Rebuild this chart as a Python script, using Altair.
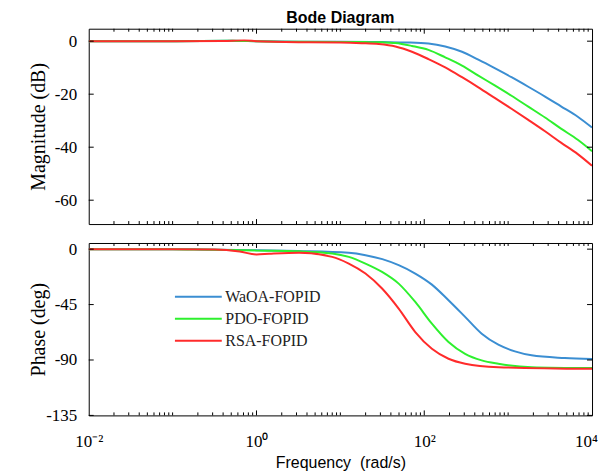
import altair as alt
import pandas as pd

SERIES = ["WaOA-FOPID", "PDO-FOPID", "RSA-FOPID"]
COLORS = ["#3b8ed2", "#2ef02e", "#ff2b2b"]

# ---- Magnitude (dB), positions given as log10(frequency) ----
mag_lw_waoa = [-2, -1, -0.3, 0, 0.5, 1, 1.5, 1.8, 2.05, 2.25, 2.45, 2.645, 2.84, 3.04, 3.24, 3.44, 3.63, 3.83, 4]
mag_db_waoa = [0, 0, 0.15, 0, -0.2, -0.25, -0.35, -0.5, -0.9, -2, -4, -7, -10.2, -13.6, -17.2, -20.9, -24.6, -28.5, -32.6]

mag_lw_pdo = [-2, -1, -0.3, 0, 0.5, 1, 1.3, 1.5, 1.656, 1.853, 2.05, 2.25, 2.45, 2.645, 2.84, 3.04, 3.24, 3.44, 3.63, 3.83, 4]
mag_db_pdo = [0, 0, 0.15, 0, -0.25, -0.3, -0.35, -0.45, -0.7, -1.8, -3.3, -6.1, -9.2, -13, -16.7, -20.6, -24.7, -28.8, -33, -37.2, -41.5]

mag_lw_rsa = [-2, -1, -0.4, -0.15, 0, 0.5, 1, 1.255, 1.457, 1.656, 1.853, 2.05, 2.25, 2.45, 2.645, 2.84, 3.04, 3.24, 3.44, 3.63, 3.83, 4]
mag_db_rsa = [0, 0, 0.1, 0.3, 0, -0.4, -0.5, -0.75, -1.1, -2, -4, -6.75, -9.9, -13.6, -17.4, -21.4, -25.5, -29.7, -34, -38.3, -42.6, -47]

# ---- Phase (deg) ----
ph_lw_waoa = [-2, -1, -0.68, 0, 0.5, 1.1, 1.3, 1.5, 1.695, 1.893, 2.091, 2.289, 2.487, 2.685, 2.883, 3.081, 3.279, 3.675, 4]
ph_deg_waoa = [0, 0, -0.2, -0.8, -1.5, -3, -4.9, -8.1, -13, -19.8, -28.8, -41.5, -55, -68.7, -77.6, -83, -86.2, -88.4, -89.3]

ph_lw_pdo = [-2, -1, -0.68, 0, 0.507, 0.902, 1.1, 1.299, 1.497, 1.695, 1.893, 2.091, 2.289, 2.487, 2.685, 2.883, 3.279, 4]
ph_deg_pdo = [0, 0, -0.3, -1.2, -1.8, -3.5, -6.3, -11.7, -18.5, -28, -42.9, -60.5, -75.4, -85, -90.3, -93, -95.8, -96.6]

ph_lw_rsa = [-2, -1, -0.5, -0.2, 0, 0.15, 0.507, 0.902, 1.1, 1.299, 1.497, 1.695, 1.893, 2.091, 2.289, 2.487, 2.883, 4]
ph_deg_rsa = [0, 0, -0.3, -2, -4.3, -3.8, -3, -6.3, -11.7, -19.8, -32, -48.3, -67.3, -80.9, -89, -93, -95.8, -97.2]

X_TICK_EXP = [-2, 0, 2, 4]
X_TICK_LABELS = ["10\u207b\u00b2", "10\u2070", "10\u00b2", "10\u2074"]
MAG_TICKS = [0, -20, -40, -60]
PHASE_TICKS = [0, -45, -90, -135]


def frame(pairs):
    rows = []
    for name, lws, vals in pairs:
        for lw, v in zip(lws, vals):
            rows.append({"series": name, "f": 10 ** lw, "val": v})
    return pd.DataFrame(rows)


mag_df = frame([(SERIES[0], mag_lw_waoa, mag_db_waoa),
                (SERIES[1], mag_lw_pdo, mag_db_pdo),
                (SERIES[2], mag_lw_rsa, mag_db_rsa)])
ph_df = frame([(SERIES[0], ph_lw_waoa, ph_deg_waoa),
               (SERIES[1], ph_lw_pdo, ph_deg_pdo),
               (SERIES[2], ph_lw_rsa, ph_deg_rsa)])

major_x = [10.0 ** e for e in X_TICK_EXP[1:-1]]
minor_x = [m * 10.0 ** k for k in range(-2, 4) for m in range(1, 10)
           if not (m == 1 and k in X_TICK_EXP)]

label_expr = ""
for e, lab in zip(X_TICK_EXP, X_TICK_LABELS):
    label_expr += f"round(log(datum.value)/LN10) == {e} ? '{lab}' : "
label_expr += "''"

W = 505
SERIF = "Liberation Serif"
SANS = "Liberation Sans"


def panel(df, ydomain, yticks, ytitle, h, bottom):
    xs = alt.Scale(type="log", domain=[0.01, 10000], nice=False)
    ys = alt.Scale(domain=ydomain, nice=False, zero=False)
    if bottom:
        xaxis = alt.Axis(values=[10.0 ** e for e in X_TICK_EXP], labelExpr=label_expr,
                         title="Frequency \u00a0(rad/s)", ticks=False, domain=False, grid=False,
                         labelFlush=False, labelOverlap=False, labelFont=SERIF, labelFontSize=17,
                         labelOffset={"condition": {"test": "datum.value > 1000", "value": -6},
                                      "value": 0},
                         labelPadding=18, labelColor="black", titleFont=SANS, titleFontSize=16,
                         titleFontWeight="normal", titlePadding=5, titleColor="black")
    else:
        xaxis = None
    yaxis = alt.Axis(values=yticks, labelExpr="'' + datum.value", title=ytitle, ticks=False,
                     domain=False, grid=False, labelFont=SERIF, labelFontSize=17, labelPadding=12,
                     labelColor="black", titleFont=SERIF, titleFontSize=20, titleFontWeight="normal",
                     titleX=-50, titleBaseline="middle", titleColor="black")
    xenc = alt.X("f:Q", scale=xs, axis=xaxis)
    yenc = alt.Y("val:Q", scale=ys, axis=yaxis)

    layers = []
    if bottom:
        legend = alt.Legend(title=None, orient="none", legendX=99, legendY=258,
                            symbolType="M-2.35,0L2.35,0", symbolSize=400, symbolStrokeWidth=2,
                            labelFont=SERIF, labelFontSize=16, labelOffset=16, rowPadding=3,
                            padding=0, labelColor="#222222")
        color = alt.Color("series:N", scale=alt.Scale(domain=SERIES, range=COLORS), legend=legend)
        for s in SERIES:
            layers.append(
                alt.Chart(df).transform_filter(alt.datum.series == s)
                .mark_line(strokeWidth=2, interpolate="monotone", clip=True)
                .encode(x=xenc, y=yenc, color=color)
            )
    else:
        for s, c in zip(SERIES, COLORS):
            layers.append(
                alt.Chart(df).transform_filter(alt.datum.series == s)
                .mark_line(strokeWidth=2, interpolate="monotone", clip=True, color=c)
                .encode(x=xenc, y=yenc)
            )
    tick_major = alt.Chart(pd.DataFrame({"f": major_x}))
    tick_minor = alt.Chart(pd.DataFrame({"f": minor_x}))
    tick_y = alt.Chart(pd.DataFrame({"val": yticks}))
    rule = dict(color="black", strokeWidth=1)
    layers += [
        tick_major.mark_rule(**rule).encode(x=xenc, y=alt.value(0), y2=alt.value(5)),
        tick_major.mark_rule(**rule).encode(x=xenc, y=alt.value(h), y2=alt.value(h - 5)),
        tick_minor.mark_rule(**rule).encode(x=xenc, y=alt.value(0), y2=alt.value(3)),
        tick_minor.mark_rule(**rule).encode(x=xenc, y=alt.value(h), y2=alt.value(h - 3)),
        tick_y.mark_rule(**rule).encode(y=yenc, x=alt.value(0), x2=alt.value(5)),
        tick_y.mark_rule(**rule).encode(y=yenc, x=alt.value(W), x2=alt.value(W - 5)),
    ]
    return alt.layer(*layers).properties(width=W, height=h)


top = panel(mag_df, [-69, 4.7], MAG_TICKS, "Magnitude (dB)", 196, False).properties(
    title=alt.TitleParams("Bode Diagram", font=SANS, fontSize=16, fontWeight="bold",
                          offset=2, frame="group", anchor="middle", color="black"))
bottom = panel(ph_df, [-135, 5], PHASE_TICKS, "Phase (deg)", 173, True)

chart = alt.vconcat(top, bottom, spacing=14).properties(
    padding={"left": 20, "top": 1, "right": 0, "bottom": 0}
).configure_view(stroke="black", strokeWidth=1)

chart.save("out.html", embed_options={"renderer": "svg", "actions": False})
